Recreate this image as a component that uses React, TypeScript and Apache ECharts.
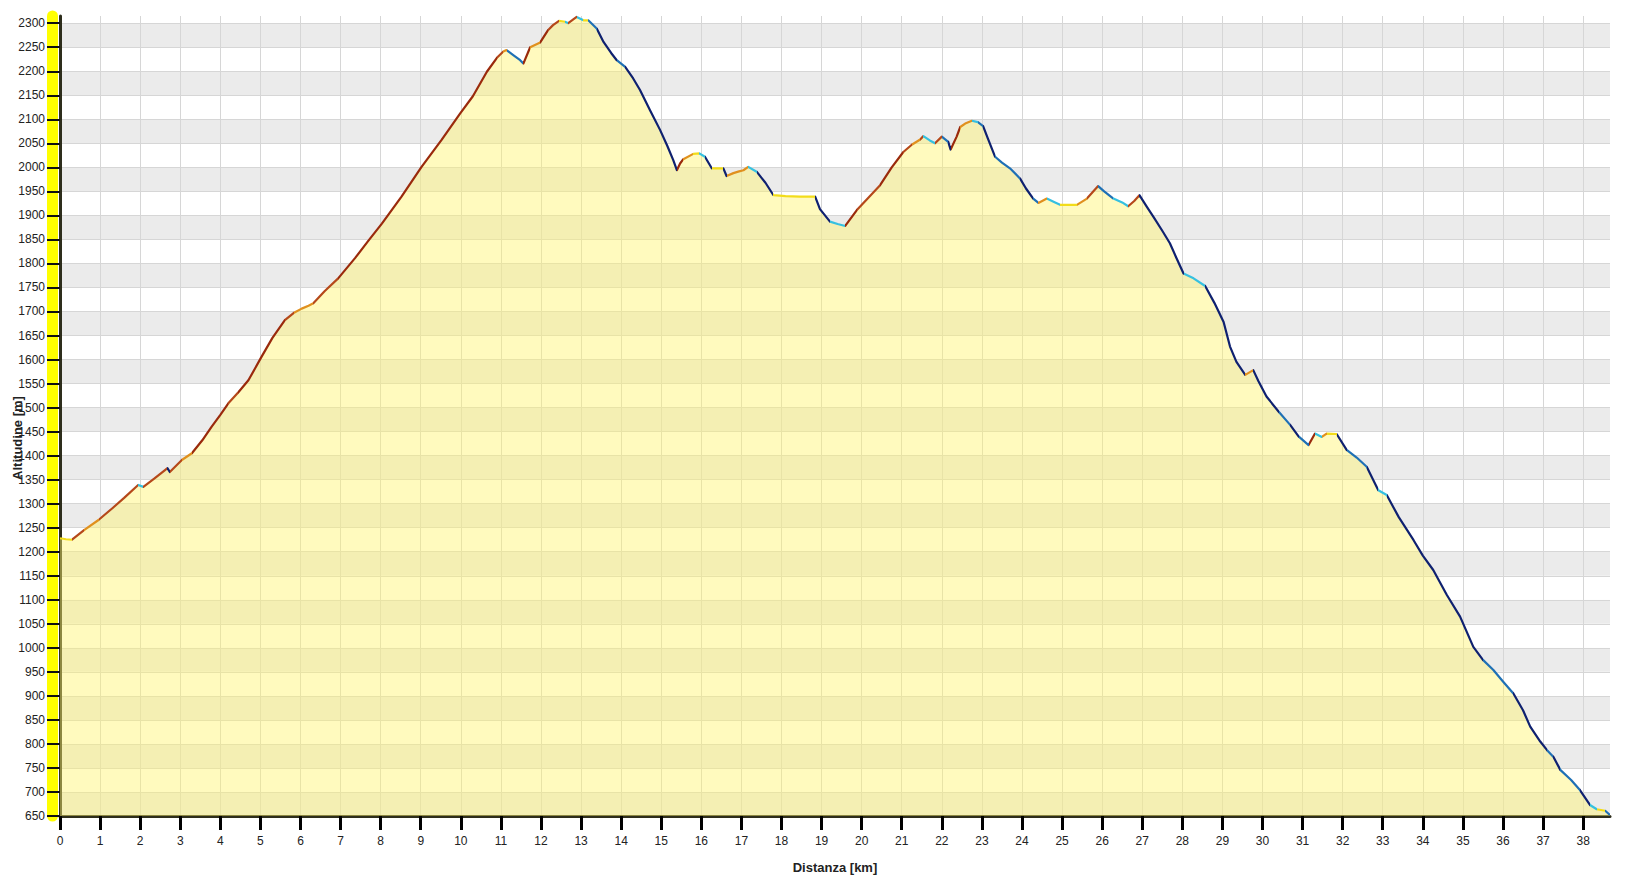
import React, { useEffect, useRef } from "react";
import * as echarts from "echarts";

// Distance along the route (km) and altitude (m)
const distanceKm = [
  0, 0.15, 0.3, 0.6, 0.96, 1.3, 1.6, 1.95, 2.08, 2.35, 2.62, 2.68, 2.74, 3.04, 3.29, 3.55, 3.78, 4.0, 4.2, 4.45,
  4.7, 5.03, 5.3, 5.61, 5.85, 6.03, 6.2, 6.32, 6.6, 6.94, 7.36, 7.7, 8.03, 8.52, 9.02, 9.52, 9.98, 10.3, 10.65, 10.9,
  11.06, 11.14, 11.3, 11.48, 11.56, 11.73, 11.98, 12.18, 12.3, 12.45, 12.6, 12.68, 12.89, 13.06, 13.18, 13.39, 13.56, 13.75, 13.89, 14.1,
  14.3, 14.47, 14.72, 14.97, 15.15, 15.3, 15.39, 15.47, 15.55, 15.8, 15.95, 16.09, 16.26, 16.55, 16.63, 16.8, 16.92, 17.05, 17.17, 17.38,
  17.6, 17.8, 18.1, 18.46, 18.84, 18.96, 19.21, 19.4, 19.59, 19.88, 20.15, 20.46, 20.75, 21.04, 21.25, 21.46, 21.54, 21.7, 21.83, 22.0,
  22.16, 22.22, 22.37, 22.46, 22.6, 22.75, 22.9, 23.03, 23.15, 23.33, 23.5, 23.7, 23.95, 24.1, 24.28, 24.41, 24.62, 24.8, 24.95, 25.37,
  25.62, 25.9, 26.05, 26.28, 26.5, 26.65, 26.8, 26.93, 27.1, 27.28, 27.5, 27.69, 27.85, 28.03, 28.28, 28.57, 28.8, 29.03, 29.19, 29.35,
  29.57, 29.77, 29.9, 30.1, 30.4, 30.69, 30.9, 31.15, 31.31, 31.48, 31.6, 31.85, 32.1, 32.35, 32.6, 32.89, 33.1, 33.4, 33.77, 34.0,
  34.26, 34.6, 34.93, 35.26, 35.5, 35.76, 36.0, 36.26, 36.5, 36.68, 36.93, 37.1, 37.26, 37.43, 37.7, 37.92, 38.17, 38.34, 38.55, 38.67,
];
const altitudeM = [
  1228, 1226, 1225, 1245, 1266, 1290, 1312, 1339, 1335, 1352, 1370, 1374, 1366, 1391, 1405, 1432, 1460, 1485, 1509, 1532,
  1557, 1606, 1645, 1682, 1698, 1706, 1712, 1717, 1742, 1769, 1811, 1848, 1883, 1939, 2001, 2057, 2112, 2148, 2199, 2228,
  2241, 2244, 2234, 2223, 2216, 2250, 2260, 2286, 2296, 2305, 2303, 2300, 2313, 2306, 2306, 2289, 2261, 2238, 2223, 2209,
  2185, 2161, 2119, 2078, 2045, 2015, 1994, 2008, 2017, 2028, 2029, 2022, 1998, 1998, 1982, 1988, 1991, 1994, 2001, 1991,
  1968, 1942, 1940, 1939, 1939, 1913, 1887, 1882, 1878, 1911, 1935, 1963, 2000, 2032, 2047, 2058, 2065, 2056, 2050, 2064,
  2053, 2037, 2064, 2084, 2092, 2097, 2094, 2086, 2060, 2022, 2010, 1998, 1977, 1956, 1935, 1926, 1935, 1928, 1922, 1922,
  1935, 1961, 1950, 1935, 1927, 1919, 1930, 1942, 1920, 1897, 1868, 1842, 1812, 1779, 1769, 1753, 1718, 1678, 1627, 1595,
  1568, 1578, 1555, 1523, 1492, 1464, 1440, 1422, 1446, 1439, 1446, 1445, 1412, 1396, 1377, 1328, 1318, 1272, 1224, 1192,
  1162, 1110, 1065, 1002, 975, 954, 930, 905, 870, 836, 805, 787, 773, 746, 725, 704, 673, 664, 661, 652,
];

// Tick labels
const xTickValues = [
  0, 1, 2, 3, 4, 5, 6, 7, 8, 9, 10, 11, 12, 13, 14, 15, 16, 17, 18, 19,
  20, 21, 22, 23, 24, 25, 26, 27, 28, 29, 30, 31, 32, 33, 34, 35, 36, 37, 38,
];
const yTickValues = [
  650, 700, 750, 800, 850, 900, 950, 1000, 1050, 1100, 1150, 1200, 1250, 1300, 1350, 1400, 1450, 1500,
  1550, 1600, 1650, 1700, 1750, 1800, 1850, 1900, 1950, 2000, 2050, 2100, 2150, 2200, 2250, 2300,
];

const yAxisTitle = "Altitudine [m]";
const xAxisTitle = "Distanza [km]";

// Slope classes (grade in %) and their line colours
const slopeBreaks = [-10, -6, -2, 2, 6, 10];
const slopeColors = ["#0f2170", "#1f70b5", "#36c0e0", "#f2dc1a", "#e0901e", "#b5481a", "#9a2a0c"];

const FONT = "'Liberation Sans', Arial, sans-serif";

function slopeColor(grade: number): string {
  let idx = 0;
  while (idx < slopeBreaks.length && grade >= slopeBreaks[idx]) idx++;
  return slopeColors[idx];
}

function buildPieces() {
  const pieces: any[] = [];
  for (let i = 0; i < distanceKm.length - 1; i++) {
    const dx = (distanceKm[i + 1] - distanceKm[i]) * 1000;
    const grade = ((altitudeM[i + 1] - altitudeM[i]) / dx) * 100;
    const color = slopeColor(grade);
    const last = pieces[pieces.length - 1];
    if (last && last.color === color) {
      last.lt = distanceKm[i + 1];
    } else {
      pieces.push({ gte: distanceKm[i], lt: distanceKm[i + 1], color });
    }
  }
  const lastPiece = pieces[pieces.length - 1];
  lastPiece.lte = lastPiece.lt;
  delete lastPiece.lt;
  return pieces;
}

export default function App() {
  const ref = useRef<HTMLDivElement>(null);

  useEffect(() => {
    if (!ref.current) return;
    const chart = echarts.init(ref.current, undefined, { renderer: "svg" });
    const data = distanceKm.map((d, i) => [d, altitudeM[i]]);
    const xMax = distanceKm[distanceKm.length - 1];

    chart.setOption({
      animation: false,
      backgroundColor: "#ffffff",
      grid: { left: 60, right: 28, top: 16, bottom: 61, containLabel: false, outerBoundsMode: "none" },
      graphic: [
        {
          type: "text",
          x: 17,
          y: 438,
          rotation: Math.PI / 2,
          z: 10,
          style: {
            text: yAxisTitle,
            fill: "#222",
            font: `bold 13px ${FONT}`,
            textAlign: "center",
            textVerticalAlign: "middle",
          },
        },
      ],
      visualMap: [
        {
          type: "piecewise",
          show: false,
          dimension: 0,
          seriesIndex: 1,
          pieces: buildPieces(),
        },
      ],
      xAxis: {
        type: "value",
        min: 0,
        max: xMax,
        interval: 1,
        name: xAxisTitle,
        nameLocation: "middle",
        nameGap: 45,
        nameTextStyle: { fontFamily: FONT, fontWeight: "bold", fontSize: 13, color: "#222" },
        axisLine: { show: true, lineStyle: { color: "#2e2e1c", width: 3 } },
        axisTick: { show: true, length: 14, customValues: xTickValues, lineStyle: { color: "#000", width: 3 } },
        axisLabel: {
          customValues: xTickValues,
          margin: 19,
          fontSize: 12,
          fontFamily: FONT,
          color: "#222",
          formatter: (v: number) => String(v),
        },
        splitLine: { show: true, lineStyle: { color: "#d6d6d6", width: 1 } },
        z: 1,
      },
      yAxis: [
        {
          type: "value",
          min: 650,
          max: 2315,
          interval: 50,
          axisLine: { show: true, lineStyle: { color: "#2e2e1c", width: 3 } },
          axisTick: { show: true, length: 13, customValues: yTickValues, lineStyle: { color: "#111", width: 2 } },
          axisLabel: {
            customValues: yTickValues,
            margin: 15,
            fontSize: 12,
            fontFamily: FONT,
            color: "#222",
            formatter: (v: number) => String(v),
          },
          splitLine: { show: true, lineStyle: { color: "#d6d6d6", width: 1 } },
          splitArea: { show: true, areaStyle: { color: ["#ebebeb", "#ffffff"] } },
          z: 1,
        },
        {
          type: "value",
          position: "left",
          offset: 7.5,
          min: 0,
          max: 1,
          axisLine: { show: true, lineStyle: { color: "#ffff00", width: 11 } },
          axisTick: { show: false },
          axisLabel: { show: false },
          splitLine: { show: false },
          splitArea: { show: false },
          z: 0,
        },
      ],
      series: [
        {
          type: "line",
          data,
          showSymbol: false,
          silent: true,
          lineStyle: { width: 0 },
          areaStyle: { color: "rgba(255, 245, 110, 0.45)", opacity: 1 },
          z: 2,
        },
        {
          type: "line",
          data,
          showSymbol: false,
          silent: true,
          lineStyle: { width: 2.2, join: "round" },
          z: 4,
        },
      ],
    });

    return () => chart.dispose();
  }, []);

  return (
    <div
      ref={ref}
      style={{ position: "fixed", left: 0, top: 0, width: 1638, height: 877 }}
    />
  );
}
